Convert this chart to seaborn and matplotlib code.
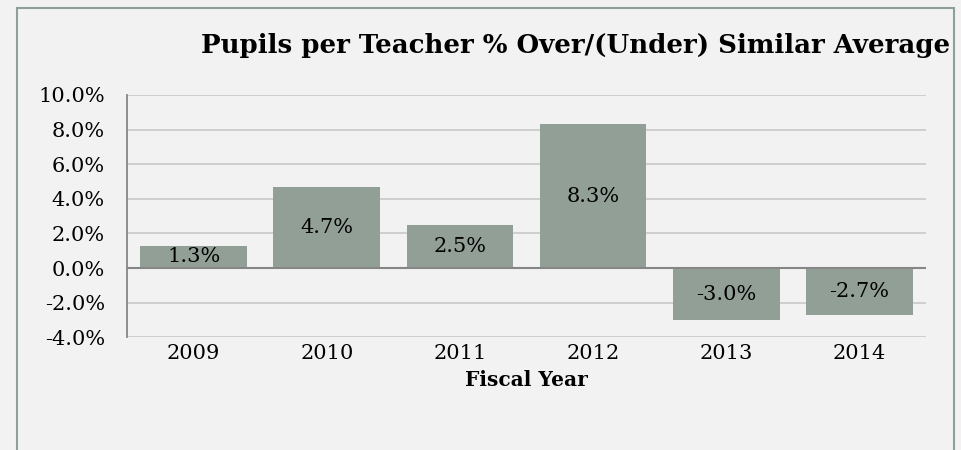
import matplotlib
matplotlib.use("Agg")
import matplotlib.pyplot as plt
import seaborn as sns
import pandas as pd
from matplotlib.patches import Rectangle

years = ["2009", "2010", "2011", "2012", "2013", "2014"]
values = [1.3, 4.7, 2.5, 8.3, -3.0, -2.7]
yticks = [-4, -2, 0, 2, 4, 6, 8, 10]
title = "Pupils per Teacher % Over/(Under) Similar Average"
xlabel = "Fiscal Year"

sns.set_theme(style="white")
plt.rcParams['font.family'] = ['DejaVu Serif']

bg = "#f2f2f2"
bar_color = "#929f96"

fig = plt.figure(figsize=(9.61, 4.5), dpi=100, facecolor=bg)
ax = fig.add_axes([127/961, 1-337.3/450, (926-127)/961, (337.3-95)/450])
ax.set_facecolor(bg)

df = pd.DataFrame({"year": years, "value": values})
sns.barplot(data=df, x="year", y="value", color=bar_color, width=0.8,
            saturation=1, ax=ax, edgecolor="none")

ax.set_ylim(-4, 10)
ax.set_xlim(-0.5, len(years) - 0.5)
ax.set_yticks(yticks)
ax.set_yticklabels([f"{t:.1f}%" for t in yticks])
ax.yaxis.grid(True, color="#cfcfcf", linewidth=1.4)
ax.set_axisbelow(True)
for s in ["top", "right", "bottom"]:
    ax.spines[s].set_visible(False)
ax.spines["left"].set_color("#868686")
ax.spines["left"].set_linewidth(1.3)
ax.axhline(0, color="#868686", linewidth=1.5, zorder=3)
ax.tick_params(axis="y", length=6, width=1.3, color="#868686", labelsize=15, pad=10)
ax.tick_params(axis="x", length=0, labelsize=15, pad=5)
for lbl in ax.get_yticklabels() + ax.get_xticklabels():
    lbl.set_color("black")

for container in ax.containers:
    ax.bar_label(container, labels=[f"{v:.1f}%" for v in values],
                 label_type="center", fontsize=15, color="black")

ax.set_xlabel(xlabel, fontsize=14.5, fontweight="bold", labelpad=5, color="black")
ax.set_ylabel("")

fig.text(950/961, 1-46/450, title, ha="right", va="center",
         fontsize=18.7, fontweight="bold", color="black")

border = Rectangle((17/961, -0.1), (954-17)/961, 1.1 - 8/450,
                   transform=fig.transFigure, fill=False,
                   edgecolor="#8fa096", linewidth=1.5)
fig.patches.append(border)

fig.savefig("out.png", dpi=100, facecolor=bg)
